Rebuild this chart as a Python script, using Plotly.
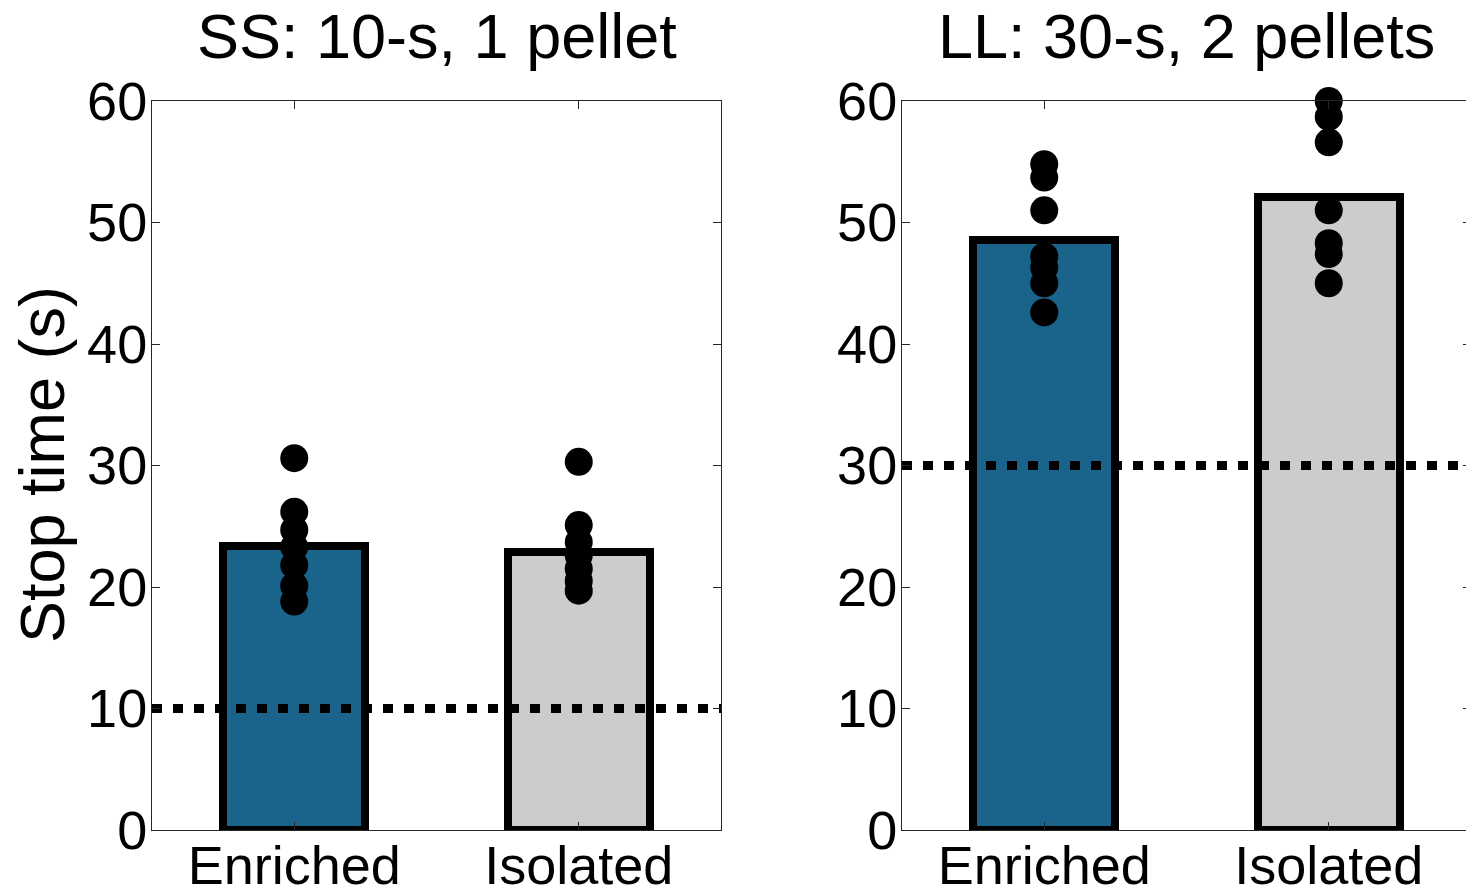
import plotly.graph_objects as go

groups = ["Enriched", "Isolated"]
group_pos = [1, 2]
bar_colors = ["#1a638b", "#cccccc"]

ss_means = [23.4, 22.9]
ll_means = [48.6, 52.1]

ss_enriched = [30.6, 26.2, 24.7, 23.3, 21.8, 20.1, 18.8]
ss_isolated = [30.3, 25.1, 23.7, 22.6, 21.5, 20.5, 19.7]
ll_enriched = [54.8, 53.7, 51.0, 47.2, 46.3, 45.0, 42.6]
ll_isolated = [60.0, 58.7, 56.6, 51.0, 48.3, 47.4, 45.0]

ss_criterion = 10
ll_criterion = 30

yticks = [0, 10, 20, 30, 40, 50, 60]

W, H = 1466, 890
FONT = "Liberation Sans, Arial, sans-serif"

fig = go.Figure()

def add_panel(means, enr, iso, crit, xa, ya):
    fig.add_trace(go.Bar(
        x=group_pos, y=means, width=0.5,
        marker=dict(color=bar_colors, line=dict(color="black", width=8)),
        xaxis=xa, yaxis=ya, showlegend=False, hoverinfo="skip"))
    fig.add_trace(go.Scatter(
        x=[0.5, 2.5], y=[crit, crit], mode="lines",
        line=dict(color="black", width=9, dash="10px,11px"),
        xaxis=xa, yaxis=ya, showlegend=False, hoverinfo="skip", cliponaxis=True))
    xs = [group_pos[0]] * len(enr) + [group_pos[1]] * len(iso)
    fig.add_trace(go.Scatter(
        x=xs, y=list(enr) + list(iso), mode="markers",
        marker=dict(color="black", size=28, line=dict(width=0)),
        xaxis=xa, yaxis=ya, showlegend=False, cliponaxis=False))

add_panel(ss_means, ss_enriched, ss_isolated, ss_criterion, "x", "y")
add_panel(ll_means, ll_enriched, ll_isolated, ll_criterion, "x2", "y2")

ydom = [60 / H, 789 / H]
axis_line = "#262626"
common_x = dict(
    tickmode="array", tickvals=group_pos, ticktext=groups,
    ticks="inside", ticklen=8, tickcolor=axis_line,
    showline=True, linecolor=axis_line, linewidth=1, mirror="ticks",
    showgrid=False, zeroline=False, automargin=False,
    tickfont=dict(family=FONT, size=54, color="black"),
    ticklabelstandoff=-12,
)
common_y = dict(
    range=[0, 60], tickmode="array", tickvals=yticks,
    ticks="inside", ticklen=8, tickcolor=axis_line,
    showline=True, linecolor=axis_line, linewidth=1,
    showgrid=False, zeroline=False, automargin=False,
    tickfont=dict(family=FONT, size=54, color="black"),
    ticklabelstandoff=-7,
    domain=ydom,
)

fig.update_layout(
    width=W, height=H,
    margin=dict(l=0, r=0, t=0, b=0, autoexpand=False),
    paper_bgcolor="white", plot_bgcolor="white",
    bargap=0,
    xaxis=dict(common_x, range=[0.5, 2.5], domain=[152 / W, 721 / W], anchor="y"),
    yaxis=dict(common_y, anchor="x", mirror="ticks"),
    xaxis2=dict(common_x, range=[0.5, 2.5 - 5 / 284.5], domain=[902 / W, 1.0], anchor="y2"),
    yaxis2=dict(common_y, anchor="x2", mirror=False),
    yaxis3=dict(range=[0, 60], tickmode="array", tickvals=yticks, overlaying="y2",
                side="right", anchor="x2", ticks="inside", ticklen=3, automargin=False,
                tickcolor=axis_line, showline=False, showticklabels=False,
                showgrid=False, zeroline=False, domain=ydom),
    annotations=[
        dict(text="SS: 10-s, 1 pellet", x=436.5 / W, y=1 - 36 / H, xref="paper", yref="paper",
             showarrow=False, font=dict(family=FONT, size=63, color="black"),
             xanchor="center", yanchor="middle"),
        dict(text="LL: 30-s, 2 pellets", x=1186 / W, y=1 - 36 / H, xref="paper", yref="paper",
             showarrow=False, font=dict(family=FONT, size=63, color="black"),
             xanchor="center", yanchor="middle"),
        dict(text="Stop time (s)", x=42 / W, y=1 - 465 / H, xref="paper", yref="paper",
             showarrow=False, textangle=-90, font=dict(family=FONT, size=63, color="black"),
             xanchor="center", yanchor="middle"),
    ],
)
# invisible trace so the right-hand tick axis is drawn
fig.add_trace(go.Scatter(x=[1], y=[0], xaxis="x2", yaxis="y3", mode="markers",
                         marker=dict(opacity=0), showlegend=False, hoverinfo="skip"))

fig.write_html("out.html")
